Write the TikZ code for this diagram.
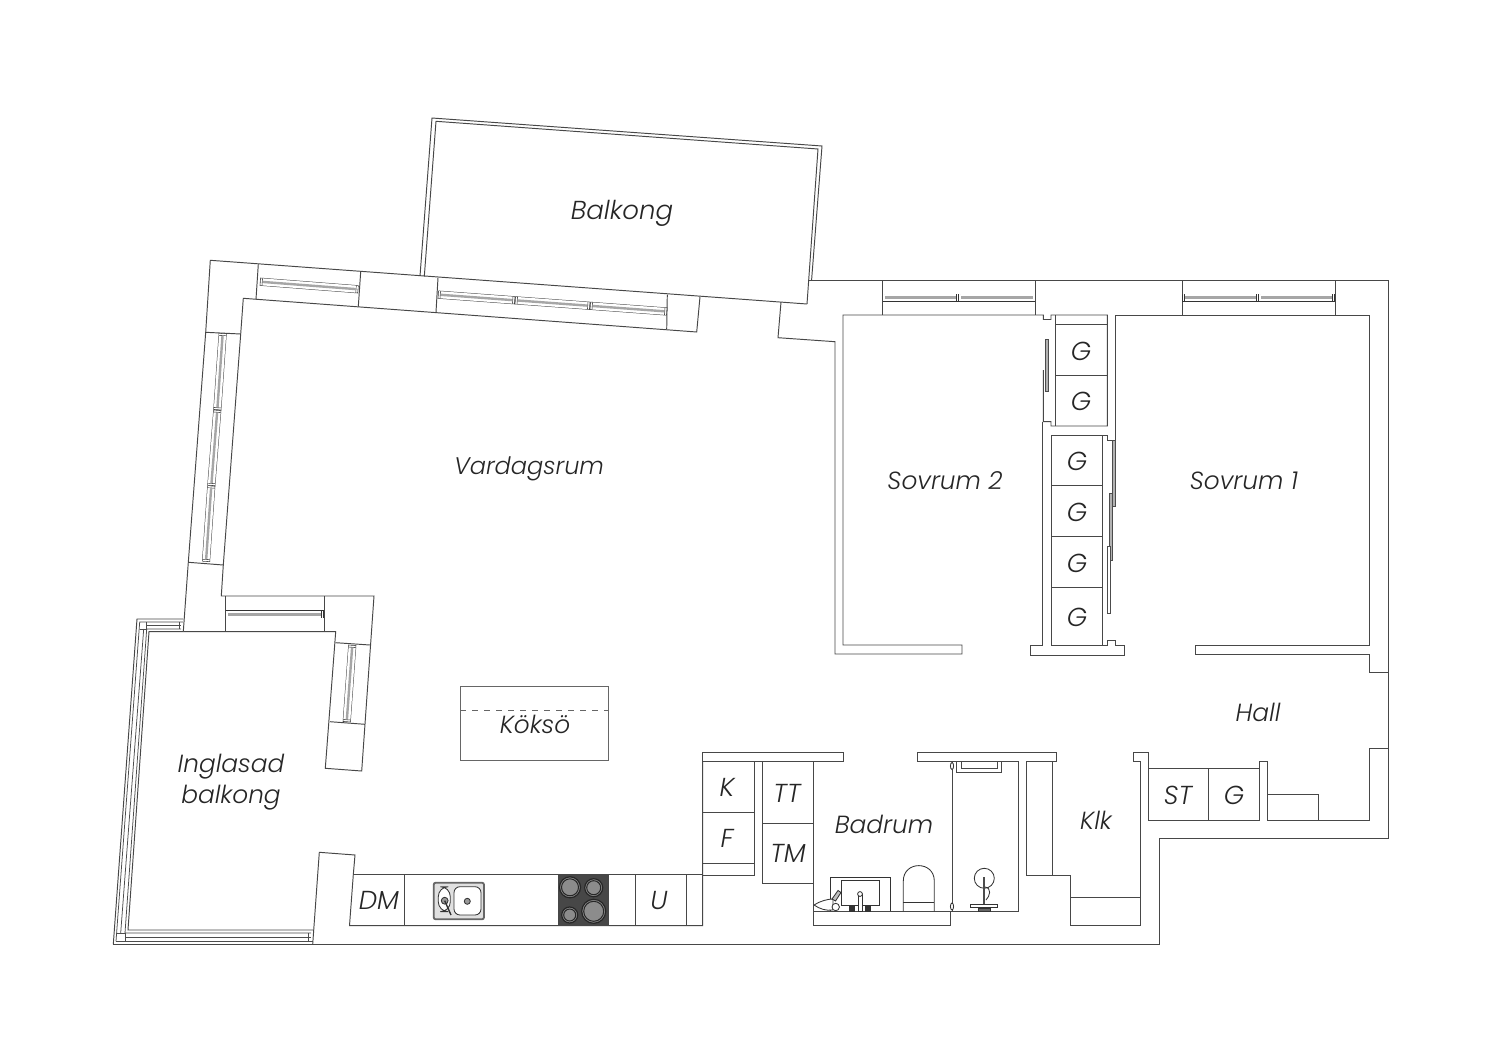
\documentclass[tikz,border=0pt]{standalone}
\usepackage{fontspec}
\setmainfont{Poppins}[UprightFont=* Light, ItalicFont=* Light Italic]
\usepackage{tikz}

\tikzset{
    wall/.style={draw=black!72, line width=0.48pt, line join=miter},
    thinwall/.style={draw=black!70, line width=0.38pt},
    slide/.style={draw=black!70, fill=black!30, line width=0.35pt},
    roomname/.style={font=\itshape\fontsize{12.4}{15.5}\selectfont, text=black!85, inner sep=0pt, align=center},
    unitname/.style={font=\itshape\fontsize{13}{15}\selectfont, text=black!85, inner sep=0pt},
    plate/.style={draw=black!85, fill=black!45, line width=0.6pt},
    fixture/.style={draw=black!80, line width=0.42pt}
}

% one pane of a window, from end to end along its middle
\newcommand{\pane}[2]{
    \draw[line width=4pt, black!80] #1 -- #2;
    \draw[line width=3.5pt, white, shorten <=0.3pt, shorten >=0.3pt] #1 -- #2;
    \draw[line width=3.5pt, black!80, shorten <=1pt, shorten >=1pt] #1 -- #2;
    \draw[line width=3.5pt, white, shorten <=1.3pt, shorten >=1.3pt] #1 -- #2;
    \draw[line width=1.2pt, black!35, shorten <=1.3pt, shorten >=1.3pt] #1 -- #2;
}

\begin{document}
\begin{tikzpicture}[x=0.5pt, y=-0.5pt]
    \useasboundingbox (0,0) rectangle (1500,1060);
    \fill[white] (0,0) rectangle (1500,1060);

    % balcony
    \draw[wall] (420,276) -- (432,118) -- (822,146) -- (811.6,280);
    \draw[wall] (424.3,276.5) -- (436,121.3) -- (818,149) -- (807,304);

    % outer walls
    \draw[wall] (312.7,944.3) -- (319.3,852.3) -- (355,855) -- (353.3,874.7) -- (349.5,925.7) -- (702.7,925.7) -- (702.7,761.7);
    \draw[wall] (113.3,944.3) -- (1159,944.3) -- (1159,838) -- (1388,838) -- (1388,280) -- (809.3,280);
    \draw[wall] (183.3,631.7) -- (188.3,562.3) -- (205.7,332.3) -- (210.3,260.3) -- (807,304);
    \draw[wall] (183.3,631.7) -- (335.7,631.7) -- (325.3,768.3) -- (361.7,771) -- (374,596) -- (221.3,596) -- (223.3,565) -- (240.7,334) -- (243.3,298.3) -- (696.7,332) -- (700,296.7);

    % glazed balcony
    \draw[wall] (113.3,944.3) -- (137,619) -- (183.3,619);
    \draw[thinwall] (116,941.3) -- (139.7,622) -- (183,622);
    \draw[thinwall] (116,941.3) -- (312.5,941.3);
    \draw[wall] (313.3,930) -- (128,930) -- (149,631.7) -- (183.3,631.7);
    \draw[thinwall] (311,933) -- (125,933) -- (146.7,629) -- (181,629);
    \draw[thinwall] (311,937) -- (124.7,937);
    \draw[thinwall] (120.7,933) -- (143.7,629);
    \draw[thinwall] (139.7,629) -- (146.7,629) (146.7,622) -- (146.7,629);
    \draw[thinwall] (116,933) -- (125,933) -- (125,941.3);
    \draw[thinwall] (308.3,933) -- (308.3,941.3) (179.3,622) -- (179.3,629);
    \draw[thinwall] (146,625.7) -- (181,625.7);

    % wall cuts beside the windows
    \foreach \xa/\ya/\xb/\yb in {258.3/264.3/256/299.3, 360.7/271.7/358.3/306.7, 438/277.7/436/312.3, 667.3/294.7/666.7/329.3,
        205.7/332.3/240.7/334, 188.3/562.3/223.3/565, 225.7/596/225.7/631.7, 324/596/324/631.7,
        335.7/642.7/370/645, 330/721.7/365/724.3, 882.7/280/882.7/315, 1035.3/280/1035.3/315, 1182/280/1182/315, 1335/280/1335/315}
        \draw[wall] (\xa,\ya) -- (\xb,\yb);

    % windows
    \pane{(260,281.7)}{(358.3,289.3)}
    \pane{(438,294.6)}{(515,300.3)}
    \pane{(515,300.3)}{(590,305.8)}
    \pane{(590,305.8)}{(667,311.5)}
    \pane{(222.7,333.3)}{(217.3,410)}
    \pane{(217.3,410)}{(211.3,485.7)}
    \pane{(211.3,485.7)}{(206,561.7)}
    \pane{(225.7,614.3)}{(324,614.3)}
    \pane{(352.3,645)}{(346.7,722)}
    \pane{(882.7,297.5)}{(958.7,297.5)}
    \pane{(958.7,297.5)}{(1035.3,297.5)}
    \pane{(1182,297.5)}{(1258.5,297.5)}
    \pane{(1258.5,297.5)}{(1335,297.5)}

    % bedrooms
    \draw[wall] (781,302.1) -- (778,337.7) -- (835,341.7) -- (835,654) -- (962,654) -- (962,645) -- (843,645) -- (843,315) -- (1043.3,315) -- (1043.3,319.5) -- (1051,319.5) -- (1051,315) -- (1107.3,315) -- (1107.3,426) -- (1051,426) -- (1051,421.7) -- (1043.3,421.7) -- (1043.3,370);
    \draw[wall] (1055.7,315) -- (1055.7,426);
    \draw[wall] (1055.7,324) -- (1107.3,324) (1055.7,375) -- (1107.3,375);
    \draw[wall] (1115.7,440) -- (1115.7,315) -- (1369,315) -- (1369,645) -- (1195,645) -- (1195,654) -- (1369,654) -- (1369,672) -- (1388,672);
    \draw[wall] (1042.7,421.7) -- (1042.7,645.7) -- (1030.7,645.7) -- (1030.7,655) -- (1124.3,655) -- (1124.3,645.7) -- (1115.7,645.7) -- (1115.7,640.7) -- (1107.3,640.7) -- (1107.3,645.7) -- (1051.7,645.7) -- (1051.7,435) -- (1107.3,435) -- (1107.3,440) -- (1115.7,440);
    \draw[wall] (1102.3,435) -- (1102.3,645.7);
    \foreach \yy in {485.7, 536.7, 587.7}
        \draw[wall] (1051.7,\yy) -- (1102.3,\yy);

    % sliding doors
    \draw[slide] (1045.3,339.3) rectangle (1048.7,391.7);
    \draw[slide] (1112,440) rectangle (1115.7,506.7);
    \draw[slide] (1109.3,493.3) rectangle (1112.7,560);
    \draw[slide, fill=white] (1107.3,546.7) rectangle (1110,613.3);

    % hall, closet and wc
    \draw[wall] (1388,748.3) -- (1369.3,748.3) -- (1369.3,820) -- (1267.7,820) -- (1267.7,761.7) -- (1259,761.7) -- (1259,820) -- (1148.3,820) -- (1148.3,752.7) -- (1133,752.7) -- (1133,761.7) -- (1140.7,761.7) -- (1140.7,925.7) -- (1070.7,925.7) -- (1070.7,875.7) -- (1026.7,875.7) -- (1026.7,761.7) -- (1056,761.7) -- (1056,752.7) -- (917,752.7) -- (917,761.7) -- (1018.7,761.7) -- (1018.7,911.3) -- (813.3,911.3);
    \draw[wall] (1148.3,768.3) -- (1259,768.3) (1208.3,768.3) -- (1208.3,820);
    \draw[wall] (1267.7,794.3) -- (1318.3,794.3) -- (1318.3,820);
    \draw[wall] (1052.3,761.7) -- (1052.3,875.7);
    \draw[wall] (1070.7,897) -- (1140.7,897);

    % kitchen units and bathroom walls
    \draw[wall] (702.7,761.7) -- (702.7,752.7) -- (843.3,752.7) -- (843.3,761.7) -- (702.7,761.7);
    \draw[wall] (754,761.7) -- (754,875) -- (702.7,875) (702.7,812) -- (754,812) (702.7,863) -- (754,863);
    \draw[wall] (813.3,761.7) -- (762.7,761.7) -- (762.7,883) -- (813.3,883) (762.7,823) -- (813.3,823);
    \draw[wall] (813.3,761.7) -- (813.3,925.7) -- (950.3,925.7) -- (950.3,911.3);
    \draw[wall] (353.3,874.7) -- (702.7,874.7);
    \foreach \xx in {404.3, 635.7, 686.7}
        \draw[wall] (\xx,874.7) -- (\xx,925.7);

    % hob
    \fill[black!72] (557.7,874.7) rectangle (609,925.7);
    \foreach \xx/\yy/\rr in {570/887.3/10.5, 593.7/887.7/9, 569.7/915/8, 593.7/911.3/12} {
        \draw[plate] (\xx,\yy) circle (\rr);
        \draw[draw=black!85, line width=0.5pt] (\xx,\yy) circle ({\rr-2});
    }

    % kitchen sink
    \draw[draw=black!60, fill=black!12, line width=0.9pt, rounded corners=1pt] (433.7,882.7) rectangle (484,919.3);
    \draw[fixture, fill=white, rounded corners=5pt] (438.3,886.7) rectangle (450.3,911.7);
    \draw[fixture, fill=white, rounded corners=3pt] (454,886.7) rectangle (481,915);
    \draw[fixture, fill=black!40] (444.7,900.7) circle (3.4) (467.3,901.3) circle (3);
    \draw[fixture, line width=0.7pt] (444.7,900.7) -- (451,915);

    % island
    \draw[wall, draw=black!60, line width=0.42pt] (460,686) rectangle (608,760);
    \draw[draw=black!60, line width=0.4pt, dashed] (460,710) -- (608,710);

    % bathroom fittings
    \draw[fixture] (830.3,911.3) -- (830.3,877.3) -- (890.3,877.3) -- (890.3,911.3);
    \draw[fixture, fill=white] (841.7,880.3) rectangle (879.7,905);
    \draw[fixture, fill=black!80] (849.5,906.5) rectangle (854.5,911.3) (865.5,906.5) rectangle (870.5,911.3);
    \draw[fixture, fill=white] (858,894) rectangle (862,911.3);
    \draw[fixture, fill=white] (860,894) circle (2.4);
    \draw[fixture, fill=white] (814,905) .. controls (820,901) and (828,899) .. (833,899) -- (833,910) .. controls (826,911) and (820,909) .. (814,905);
    \draw[fixture, fill=black!25] (832,899) -- (838,890.5) -- (841,892.5) -- (835.5,901) -- cycle;
    \draw[fixture, fill=white] (835.7,907) circle (3.7);
    \draw[fixture] (903.3,911.3) -- (903.3,881) .. controls (903.3,860.5) and (934.3,860.5) .. (934.3,881) -- (934.3,911.3);
    \draw[fixture] (903.3,902.3) -- (934.3,902.3);

    % shower
    \draw[wall] (952,761.7) -- (952,911.3);
    \draw[fixture, fill=white] (952,766) ellipse (1.6 and 3.5) (952,906.5) ellipse (1.6 and 3.5);
    \draw[wall] (956.7,761.7) -- (956.7,772.7) -- (1001.7,772.7) -- (1001.7,761.7);
    \draw[wall] (961,761.7) -- (961,768.3) -- (997.3,768.3) -- (997.3,761.7);
    \draw[fixture] (984.3,878.3) circle (10);
    \draw[fixture, line width=1pt, black!70] (984.3,877) -- (984.3,908);
    \draw[fixture] (985,887) .. controls (992,888) and (990,896) .. (986,900);
    \draw[fixture, fill=white] (970.5,904.5) rectangle (997.3,907.5);
    \draw[fixture, fill=black!60] (978,908) rectangle (990,911.3);

    % room names
    \node[roomname, font=\itshape\fontsize{13}{15}\selectfont] (balkong) at (622,213) {Balkong};
    \node[roomname, font=\itshape\fontsize{12}{15}\selectfont] (vardagsrum) at (529,469) {Vardagsrum};
    \node[roomname] (sovrumtwo) at (945,481) {Sovrum 2};
    \node[roomname] (sovrumone) at (1244,481) {Sovrum 1};
    \node[roomname] (hall) at (1258,712) {Hall};
    \node[roomname] (koksoe) at (535,724) {Köksö};
    \node[roomname] (glasbalkong) at (231,782) {Inglasad\\balkong};
    \node[roomname] (badrum) at (884,824) {Badrum};
    \node[roomname] (klk) at (1096,820) {Klk};

    % unit names
    \node[unitname] (kyl) at (727,787) {K};
    \node[unitname] (frys) at (727,838) {F};
    \node[unitname] (tt) at (787,793) {TT};
    \node[unitname] (tm) at (788,853) {TM};
    \node[unitname] (dm) at (379,900) {DM};
    \node[unitname] (ugn) at (659,900) {U};
    \node[unitname] (st) at (1178,795) {ST};
    \node[unitname] (gh) at (1234,795) {G};
    \foreach \nm/\xx/\yy in {ga/1081/351, gb/1081/401, gc/1077/461, gd/1077/512, ge/1077/563, gf/1077/617}
        \node[unitname] (\nm) at (\xx,\yy) {G};
\end{tikzpicture}
\end{document}
